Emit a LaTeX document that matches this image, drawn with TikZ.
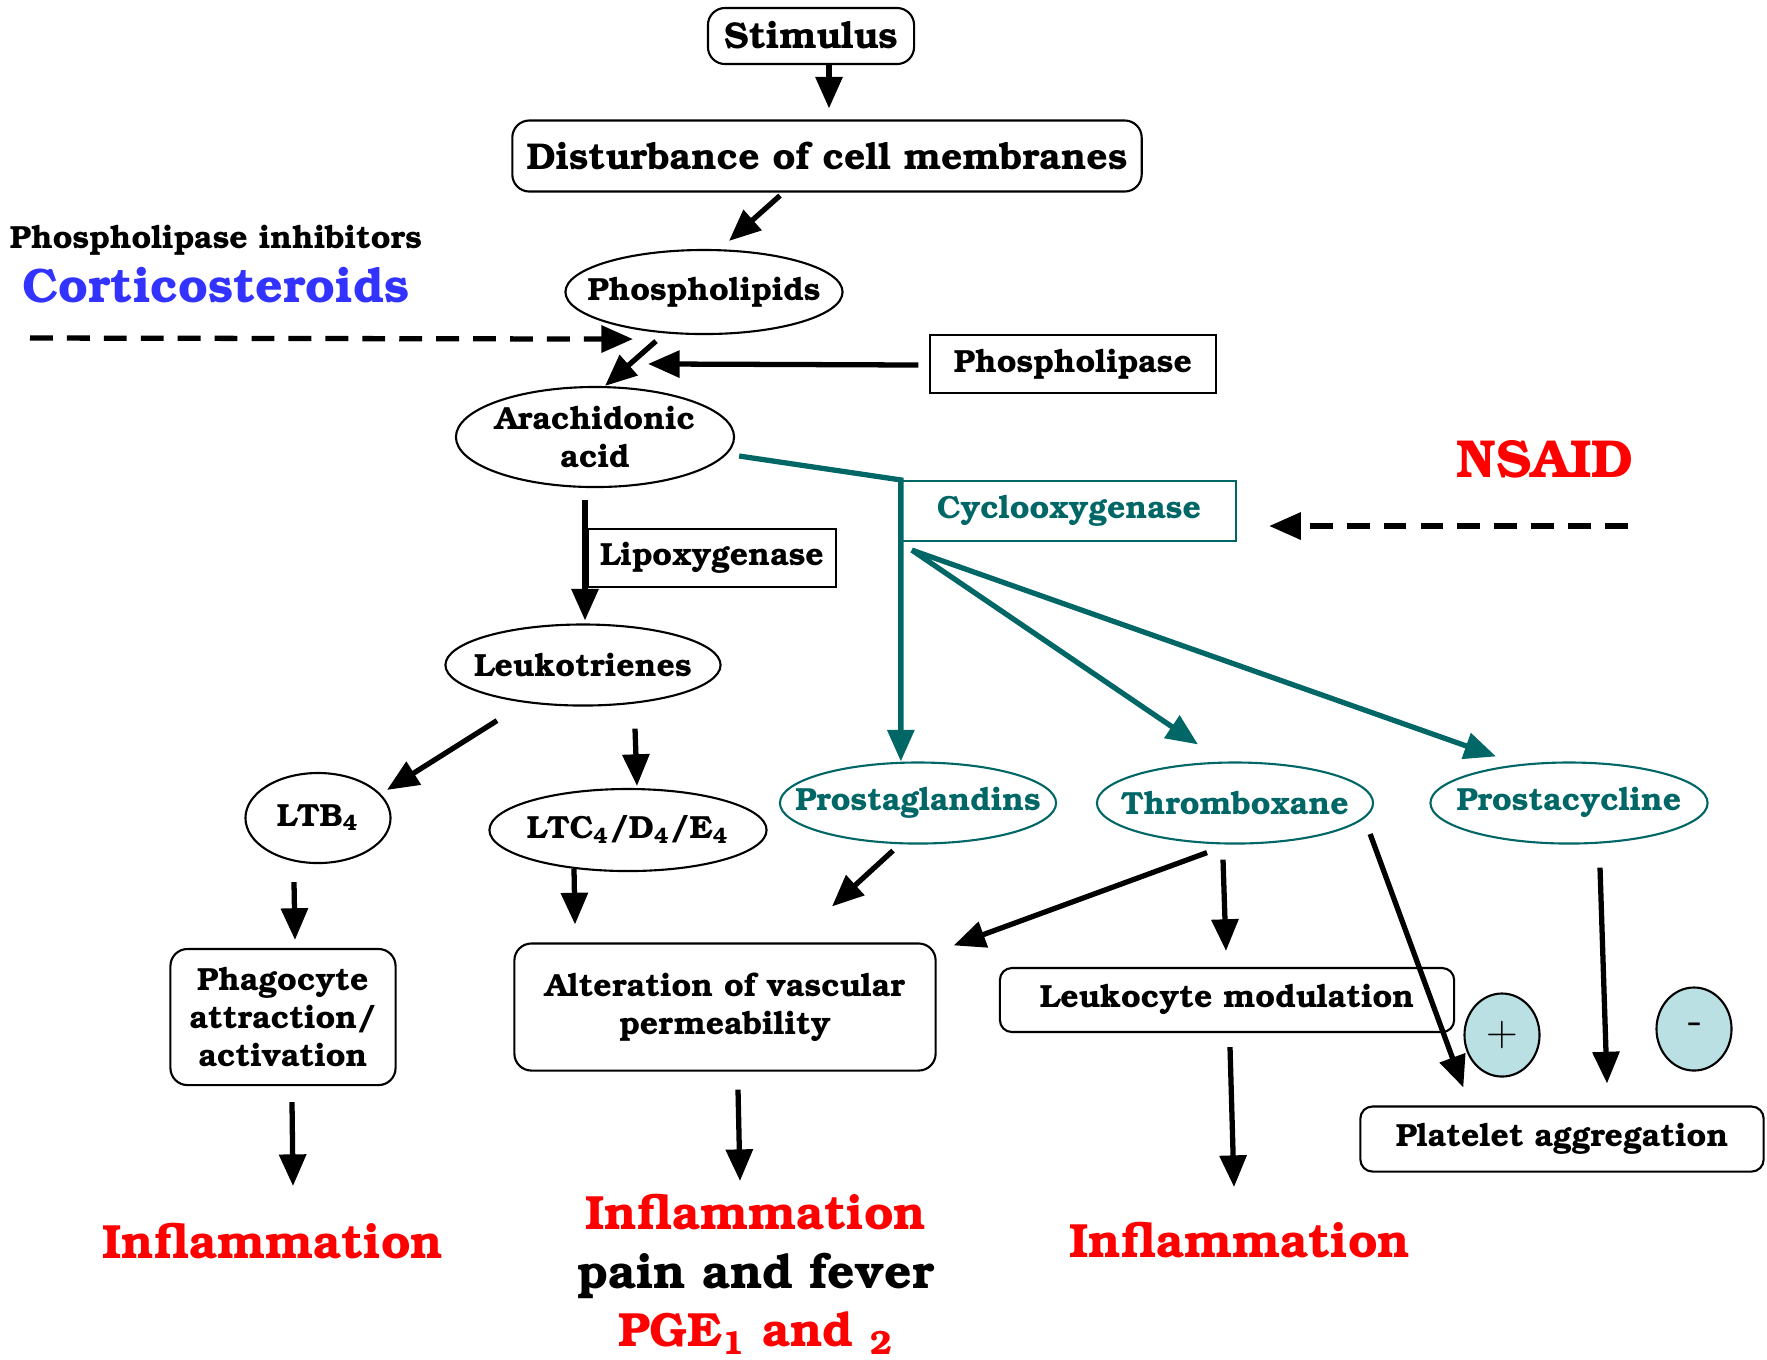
\documentclass[tikz,border=0pt]{standalone}
\usepackage[T1]{fontenc}
\usepackage{bookman}
\usetikzlibrary{arrows.meta,shapes.geometric,calc}
\definecolor{coxteal}{RGB}{0,102,102}
\definecolor{inflred}{RGB}{255,0,0}
\definecolor{cortblue}{RGB}{51,51,255}
\definecolor{signfill}{RGB}{186,224,227}
\tikzset{
  arr/.style={line width=1.5pt,-{Triangle[length=9pt,width=7.5pt]}},
  tealarr/.style={arr,color=coxteal},
  blockarr/.style={arr,dash pattern=on 6.5pt off 4pt},
  smalltxt/.style={font=\fontsize{9.1}{10.9}\selectfont\bfseries},
  bigtxt/.style={font=\fontsize{10.6}{12}\selectfont\bfseries},
  endtxt/.style={font=\fontsize{13.65}{16.6}\selectfont\bfseries,align=center},
  rbox/.style={draw,line width=0.6pt,rounded corners=0.17cm,inner sep=0pt,align=center},
  sbox/.style={draw,line width=0.6pt,inner sep=0pt,align=center},
  oval/.style={ellipse,draw,line width=0.6pt,inner xsep=-0.3cm,inner ysep=-0.1cm,align=center},
  sign/.style={ellipse,draw,line width=0.6pt,fill=signfill,inner sep=0pt,minimum width=0.75cm,minimum height=0.83cm,font=\fontsize{12}{12}\selectfont\sffamily}
}
\begin{document}
\begin{tikzpicture}[x=0.01cm,y=-0.01cm]
    \useasboundingbox (0,0) rectangle (1767,1359);
    %pathway nodes
    \node (stim) at (811,36) [rbox,bigtxt,minimum width=2.06cm,minimum height=0.56cm]{Stimulus};
    \node (dist) at (827,156) [rbox,bigtxt,minimum width=6.29cm,minimum height=0.71cm]{Disturbance of cell membranes};
    \node (phl) at (704,292) [oval,smalltxt,minimum width=2.77cm,minimum height=0.84cm]{Phospholipids};
    \node (plase) at (1073,364) [sbox,smalltxt,minimum width=2.85cm,minimum height=0.58cm]{Phospholipase};
    \node (arach) at (595,437) [oval,smalltxt,minimum width=2.78cm,minimum height=1.0cm]{Arachidonic\\acid};
    \node (cox) at (1069,511) [sbox,smalltxt,draw=coxteal,text=coxteal,minimum width=3.34cm,minimum height=0.6cm]{Cyclooxygenase};
    \node (lipox) at (712,558) [sbox,smalltxt,minimum width=2.48cm,minimum height=0.58cm]{Lipoxygenase};
    \node (leuko) at (583,665) [oval,smalltxt,minimum width=2.75cm,minimum height=0.81cm]{Leukotrienes};
    \node (pg) at (918,803) [oval,smalltxt,draw=coxteal,text=coxteal,minimum width=2.76cm,minimum height=0.81cm]{Prostaglandins};
    \node (tx) at (1235,803) [oval,smalltxt,draw=coxteal,text=coxteal,minimum width=2.76cm,minimum height=0.81cm]{Thromboxane};
    \node (pc) at (1569,803) [oval,smalltxt,draw=coxteal,text=coxteal,minimum width=2.77cm,minimum height=0.81cm]{Prostacycline};
    \node (ltb) at (318,818) [oval,smalltxt,minimum width=1.45cm,minimum height=0.9cm]{LTB\textsubscript{4}};
    \node (ltc) at (628,830) [oval,smalltxt,minimum width=2.77cm,minimum height=0.82cm]{LTC\textsubscript{4}/D\textsubscript{4}/E\textsubscript{4}};
    \node (phago) at (283,1017) [rbox,smalltxt,minimum width=2.25cm,minimum height=1.36cm]{Phagocyte\\attraction/\\activation};
    \node (alter) at (725,1007) [rbox,smalltxt,minimum width=4.21cm,minimum height=1.27cm]{Alteration of vascular\\permeability};
    \node (lmod) at (1227,1000) [rbox,smalltxt,rounded corners=0.12cm,minimum width=4.54cm,minimum height=0.64cm]{Leukocyte modulation};
    \node (plus) at (1502,1035) [sign]{$+$};
    \node (minus) at (1694,1029) [sign]{-};
    \node (plat) at (1562,1139) [rbox,smalltxt,rounded corners=0.12cm,minimum width=4.03cm,minimum height=0.65cm]{Platelet aggregation};

    %drugs and outcomes
    \node (inhib) at (216,240) [smalltxt]{Phospholipase inhibitors};
    \node (cort) at (216,286) [font=\fontsize{13.75}{15}\selectfont\bfseries,text=cortblue]{Corticosteroids};
    \node (nsaid) at (1545,459) [font=\fontsize{15.2}{17}\selectfont\bfseries,text=inflred]{NSAID};
    \node (infl1) at (273,1241) [endtxt,text=inflred]{Inflammation};
    \node (infl2) at (756,1274) [endtxt]{\textcolor{inflred}{Inflammation}\\pain and fever\\\textcolor{inflred}{PGE\textsubscript{1} and \textsubscript{2}}};
    \node (infl3) at (1240,1240) [endtxt,text=inflred]{Inflammation};
    \coordinate (cortstart) at (30,338);
    \coordinate (nsaidstart) at (1628,526);

    \draw [arr] ($(stim.south)+(18,0)$) -- ($(dist.north)+(2,-11)$);
    \draw [arr] ($(dist.south)+(-47,3)$) -- ($(phl.north)+(25,-8)$);
    \draw [arr] ($(phl.south)+(-48,6)$) -- ($(arach.north)+(10,0)$);
    \draw [arr] ($(plase.west)+(-11,1)$) -- ($(arach.north)+(53,-22)$);
    \draw [blockarr] (cortstart) -- ($(phl.south)+(-71,4)$);
    \draw [blockarr] (nsaidstart) -- ($(cox.east)+(32,15)$);
    \draw [arr] ($(arach.south)+(-10,12)$) -- ($(leuko.north)+(2,-3)$);

    \draw [tealarr] ($(arach.east)+(4,19)$) -- (cox.north west) -- (cox.north west |- pg.north);
    \draw [tealarr] ($(cox.south west)+(11,8)$) -- ($(tx.north)+(-37,-17)$);
    \draw [tealarr] ($(cox.south west)+(11,8)$) -- ($(pc.north)+(-73,-5)$);

    \draw [arr] ($(leuko.south)+(-86,14)$) -- ($(ltb.north)+(69,18)$);
    \draw [arr] ($(leuko.south)+(52,22)$) -- ($(ltc.north)+(9,-2)$);
    \draw [arr] ($(ltb.south)+(-24,18)$) -- ($(phago.north)+(12,-8)$);
    \draw [arr] ($(ltc.south)+(-54,-3)$) -- ($(alter.north)+(-150,-18)$);
    \draw [arr] ($(pg.south)+(-25,6)$) -- ($(alter.north)+(107,-36)$);
    \draw [arr] ($(tx.south)+(-28,8)$) -- ($(alter.north east)+(17,3)$);
    \draw [arr] ($(tx.south)+(-12,15)$) -- ($(lmod.north)+(-1,-16)$);
    \draw [arr] ($(tx.east)+(-4,31)$) -- ($(plat.north west)+(104,-18)$);
    \draw [arr] ($(pc.south)+(31,23)$) -- ($(plat.north)+(45,-22)$);
    \draw [arr] ($(phago.south)+(9,16)$) -- ($(infl1)+(20,-55)$);
    \draw [arr] ($(alter.south)+(13,18)$) -- ($(infl2)+(-16,-93)$);
    \draw [arr] ($(lmod.south)+(3,14)$) -- ($(infl3)+(-6,-53)$);
\end{tikzpicture}
\end{document}
